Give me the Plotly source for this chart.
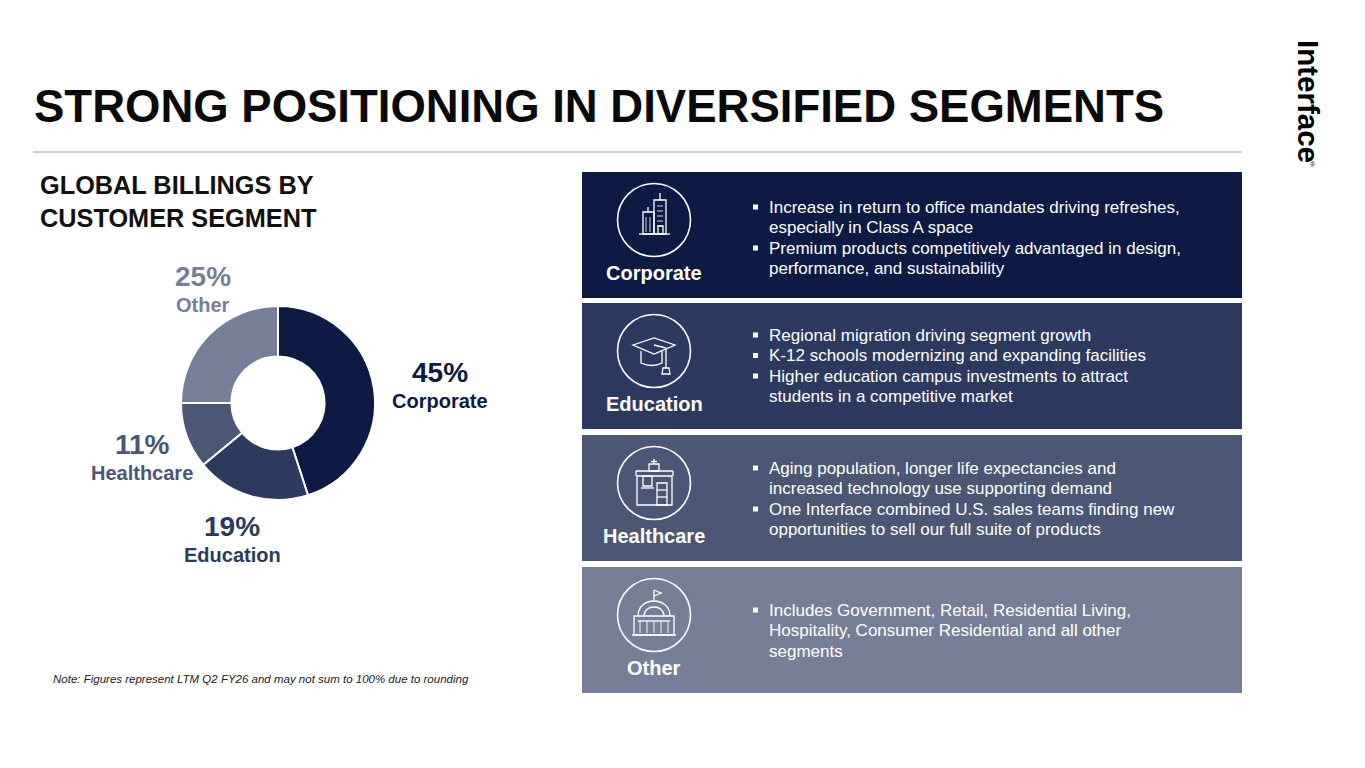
import plotly.graph_objects as go

# donut data
segments = ["Corporate", "Education", "Healthcare", "Other"]
shares = [45, 19, 11, 25]
seg_colors = ["#0c1a44", "#2b3a5e", "#4b5775", "#777f98"]

# panel text (one list of bullets per segment, each bullet a list of lines)
panel_bullets = [
    [["Increase in return to office mandates driving refreshes,", "especially in Class A space"],
     ["Premium products competitively advantaged in design,", "performance, and sustainability"]],
    [["Regional migration driving segment growth"],
     ["K-12 schools modernizing and expanding facilities"],
     ["Higher education campus investments to attract", "students in a competitive market"]],
    [["Aging population, longer life expectancies and", "increased technology use supporting demand"],
     ["One Interface combined U.S. sales teams finding new", "opportunities to sell our full suite of products"]],
    [["Includes Government, Retail, Residential Living,", "Hospitality, Consumer Residential and all other", "segments"]],
]

title = "STRONG POSITIONING IN DIVERSIFIED SEGMENTS"
subtitle = "GLOBAL BILLINGS BY<br>CUSTOMER SEGMENT"
note = "Note: Figures represent LTM Q2 FY26 and may not sum to 100% due to rounding"

W, H = 1365, 768
PAD = 8  # page body margin in the browser
FW, FH = W - 2 * PAD, H - 2 * PAD
FONT = "Liberation Sans, Arial, sans-serif"

fig = go.Figure()

# donut, domain given in page pixels
cx, cy, r = 278, 403, 97
fig.add_trace(go.Pie(
    labels=segments, values=shares, hole=0.48, sort=False, direction="clockwise",
    marker=dict(colors=seg_colors, line=dict(color="white", width=2)),
    textinfo="none", hoverinfo="label+percent", showlegend=False,
    domain=dict(x=[(cx - r - PAD) / FW, (cx + r - PAD) / FW],
                y=[1 - (cy + r - PAD) / FH, 1 - (cy - r - PAD) / FH]),
))

shapes = []
ann = []


def text(x, y, s, size, color="white", bold=False, xanchor="left", italic=False, angle=0):
    if bold:
        s = "<b>" + s + "</b>"
    if italic:
        s = "<i>" + s + "</i>"
    ann.append(dict(x=x, y=y, xref="x", yref="y", text=s, showarrow=False,
                    xanchor=xanchor, yanchor="middle", textangle=angle,
                    font=dict(family=FONT, size=size, color=color)))


def line(x0, y0, x1, y1, color="white", width=1.3):
    shapes.append(dict(type="line", xref="x", yref="y", x0=x0, y0=y0, x1=x1, y1=y1,
                       line=dict(color=color, width=width)))


def rect(x0, y0, x1, y1, fill=None, color="white", width=1.3):
    shapes.append(dict(type="rect", xref="x", yref="y", x0=x0, y0=y0, x1=x1, y1=y1,
                       fillcolor=fill if fill else "rgba(0,0,0,0)",
                       line=dict(color=color, width=width if not fill else 0)))


def path(d, width=1.3):
    shapes.append(dict(type="path", xref="x", yref="y", path=d,
                       line=dict(color="white", width=width)))


# title block
text(32, 106, title, 45.5, color="#0a0a0a", bold=True)
line(33, 152, 1242, 152, color="#a0a0a0", width=1)
ann.append(dict(x=38, y=201, xref="x", yref="y", text="<b>" + subtitle + "</b>", showarrow=False,
                xanchor="left", yanchor="middle", align="left",
                font=dict(family=FONT, size=25.3, color="#111111")))

# donut labels
label_pos = [(440, 372), (232, 526), (142, 444), (203, 276)]
for (lx, ly), name, val, col in zip(label_pos, segments, shares, seg_colors):
    text(lx, ly, f"{val}%", 28, color=col, bold=True, xanchor="center")
    text(lx, ly + 29, name, 20, color=col, bold=True, xanchor="center")

text(51, 679, note, 11.5, color="#222222", italic=True)

# logo
text(1309, 101, "Interface", 29.5, color="#000000", bold=True, xanchor="center", angle=90)
text(1313, 164, "®", 7, color="#000000", xanchor="center")

# panels
panel_top = [172, 303, 435, 567]
panel_h = 126
first_line = [207, 335, 468, 610]
lh = 20.5
for i, (top, name, col) in enumerate(zip(panel_top, segments, seg_colors)):
    rect(582, top, 1242, top + panel_h, fill=col)
    icx, icy = 654, top + 48
    shapes.append(dict(type="circle", xref="x", yref="y", x0=icx - 36.5, y0=icy - 36.5,
                       x1=icx + 36.5, y1=icy + 36.5, line=dict(color="white", width=1.6)))
    text(654, top + 101, name, 20, bold=True, xanchor="center")
    y = first_line[i]
    for bullet in panel_bullets[i]:
        rect(753, y - 2.5, 758, y + 2.5, fill="white")
        for ln in bullet:
            text(767, y, ln, 17)
            y += lh

# icons (simple line drawings)
# corporate: two towers
t = panel_top[0] + 48
line(639, t + 14, 670, t + 14)
rect(654, t - 20, 666, t + 14)
line(660, t - 20, 660, t - 27)
rect(643, t - 8, 654, t + 14)
line(648, t - 8, 648, t - 13)
for k in range(5):
    line(657, t - 14 + k * 5, 663, t - 14 + k * 5, width=0.8)
line(646, t - 3, 646, t + 12, width=0.8)
line(650, t - 3, 650, t + 12, width=0.8)
rect(658, t + 6, 663, t + 14)

# education: mortarboard
t = panel_top[1] + 48
path(f"M 633,{t - 6} L 654,{t - 13} L 675,{t - 6} L 654,{t + 3} Z")
path(f"M 641,{t} L 641,{t + 12} Q 652,{t + 17} 662,{t + 12} L 662,{t}")
line(654, t - 6, 666, t - 3)
line(666, t - 3, 666, t + 17)
path(f"M 663,{t + 17} L 669,{t + 17} L 670,{t + 23} L 662,{t + 23} Z")

# healthcare: clinic
t = panel_top[2] + 48
rect(637, t - 7, 672, t + 22)
line(636, t - 12, 673, t - 12)
line(636, t - 12, 636, t - 7)
line(673, t - 12, 673, t - 7)
rect(649, t - 19, 659, t - 12)
line(654, t - 24, 654, t - 19)
line(651, t - 21.5, 657, t - 21.5)
rect(657, t, 667, t + 22)
line(657, t + 7, 667, t + 7)
line(657, t + 14, 667, t + 14)
rect(643, t - 7, 652, t + 3)
line(641, t + 5, 654, t + 5)

# other: domed government building
t = panel_top[3] + 48
rect(634, t + 1, 674, t + 20)
line(632, t + 20, 676, t + 20)
path(f"M 638,{t + 1} C 638,{t - 19} 670,{t - 19} 670,{t + 1}")
path(f"M 644,{t + 1} C 644,{t - 11} 664,{t - 11} 664,{t + 1}")
line(654, t - 14, 654, t - 25)
path(f"M 654,{t - 25} L 661,{t - 22} L 654,{t - 19}")
for k in range(5):
    line(640 + k * 7, t + 6, 640 + k * 7, t + 18, width=0.9)
line(638, t + 6, 670, t + 6)

fig.update_layout(
    width=FW, height=FH, margin=dict(l=0, r=0, t=0, b=0),
    paper_bgcolor="white", plot_bgcolor="rgba(0,0,0,0)",
    xaxis=dict(range=[PAD, W - PAD], visible=False, fixedrange=True),
    yaxis=dict(range=[H - PAD, PAD], visible=False, fixedrange=True),
    shapes=shapes, annotations=ann, showlegend=False,
)

fig.write_html("out.html")
